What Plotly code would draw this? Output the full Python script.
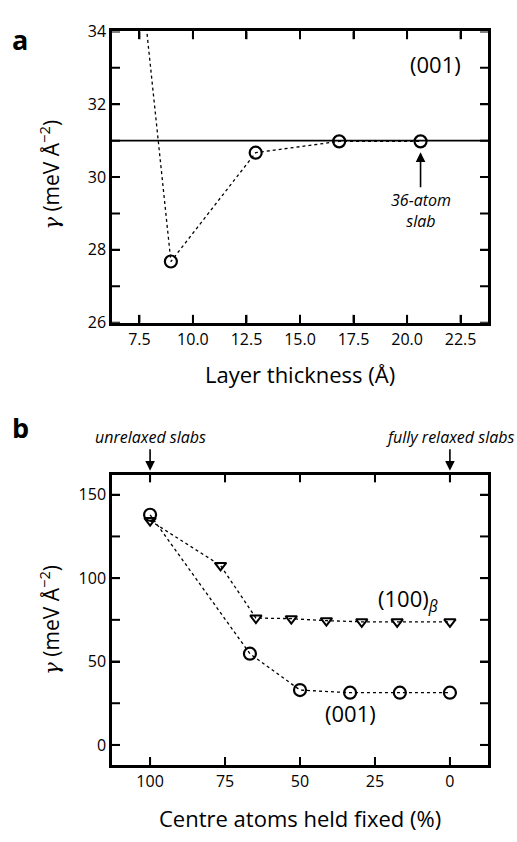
import plotly.graph_objects as go

# Panel a data
thickness = [5.0, 8.97, 12.93, 16.83, 20.63]
gamma_a = [50.0, 27.68, 30.67, 30.98, 30.98]
converged = 31.0
xticks_a = [7.5, 10, 12.5, 15, 17.5, 20, 22.5]
yticks_a = [26, 27, 28, 29, 30, 31, 32, 33, 34]
ylabels_a = [26, 28, 30, 32, 34]

# Panel b data
fixed_001 = [100, 66.7, 50, 33.3, 16.7, 0]
gamma_001 = [138.0, 54.7, 32.9, 31.3, 31.3, 31.3]
fixed_100 = [100, 76.5, 64.7, 52.9, 41.2, 29.4, 17.6, 0]
gamma_100 = [134.5, 107.6, 76.1, 75.7, 74.5, 73.8, 73.8, 73.8]
xticks_b = [100, 75, 50, 25, 0]
yticks_b = [0, 25, 50, 75, 100, 125, 150]
ylabels_b = [0, 50, 100, 150]

FONT = "Open Sans"
W, H = 517, 842
XL, XR = 112, 488
A_T, A_B = 21, 320
B_T, B_B = 476, 774
TL = 8
def px(x): return x / W
def py(y): return 1 - y / H
def dx(x): return (x - XL) / (XR - XL)
def dya(y): return (A_B - y) / (A_B - A_T)
def dyb(y): return (B_B - y) / (B_B - B_T)

fig = go.Figure()
fig.add_trace(go.Scatter(x=thickness, y=gamma_a, mode="lines+markers",
    line=dict(color="black", width=1.3, dash="dot"),
    marker=dict(symbol="circle-open", size=12, color="black", line=dict(width=2.2)),
    xaxis="x", yaxis="y", showlegend=False))
fig.add_trace(go.Scatter(x=fixed_001, y=gamma_001, mode="lines+markers",
    line=dict(color="black", width=1.3, dash="dot"),
    marker=dict(symbol="circle-open", size=12, color="black", line=dict(width=2.2)),
    xaxis="x2", yaxis="y2", showlegend=False))
fig.add_trace(go.Scatter(x=fixed_100, y=gamma_100, mode="lines+markers",
    line=dict(color="black", width=1.3, dash="dot"),
    marker=dict(symbol="triangle-down-open", size=10, color="black", line=dict(width=2)),
    xaxis="x2", yaxis="y2", showlegend=False))

axis_common = dict(showline=True, linecolor="black", linewidth=2.5, mirror="allticks",
                   ticks="inside", ticklen=TL, tickwidth=2, tickcolor="black",
                   showgrid=False, zeroline=False, layer="above traces",
                   tickfont=dict(family=FONT, size=16, color="black"))

xdom = [px(XL), px(XR)]
fig.update_layout(
    width=W, height=H, margin=dict(l=0, r=0, t=0, b=0), autosize=False,
    plot_bgcolor="white", paper_bgcolor="white",
    xaxis=dict(domain=xdom, range=[6.22, 23.78], anchor="y",
               tickvals=xticks_a, tickformat=".1f", **axis_common),
    yaxis=dict(domain=[py(A_B), py(A_T)], range=[26, 34], anchor="x",
               tickvals=ylabels_a, **axis_common),
    xaxis2=dict(domain=xdom, range=[112.7, -12.7], anchor="y2",
                tickvals=xticks_b, **axis_common),
    yaxis2=dict(domain=[py(B_B), py(B_T)], range=[-11.9, 162.1], anchor="x2",
                tickvals=ylabels_b, **axis_common),
)

fig.add_shape(type="line", xref="x domain", yref="y", x0=0, x1=1, y0=converged, y1=converged,
              line=dict(color="black", width=1.6))

# inward tick marks on all four sides (drawn at the axis tick values)
tick_line = dict(color="black", width=2)
for xa, ya, xt, yt, ph in [("x", "y", xticks_a, yticks_a, A_B - A_T),
                           ("x2", "y2", xticks_b, yticks_b, B_B - B_T)]:
    fw = XR - XL
    for v in xt:
        fig.add_shape(type="line", xref=xa, yref=ya + " domain", x0=v, x1=v, y0=0, y1=TL / ph, line=tick_line)
        fig.add_shape(type="line", xref=xa, yref=ya + " domain", x0=v, x1=v, y0=1, y1=1 - TL / ph, line=tick_line)
    for v in yt:
        fig.add_shape(type="line", xref=xa + " domain", yref=ya, x0=0, x1=TL / fw, y0=v, y1=v, line=tick_line)
        fig.add_shape(type="line", xref=xa + " domain", yref=ya, x0=1, x1=1 - TL / fw, y0=v, y1=v, line=tick_line)

ytitle = '<span style="font-family:DejaVu Serif"><i>γ</i></span> (meV Å<sup>−2</sup>)'
ann = []
def A(text, x, y, panel, size, xanchor="center", **kw):
    ref = ("x domain", "y domain") if panel == "a" else ("x2 domain", "y2 domain")
    yy = dya(y) if panel == "a" else dyb(y)
    ann.append(dict(text=text, x=dx(x), y=yy, xref=ref[0], yref=ref[1],
                    xanchor=xanchor, yanchor="middle",
                    showarrow=False, font=dict(family=FONT, size=size, color="black"), **kw))

A("<b>a</b>", 20, 29, "a", 27)
A("<b>b</b>", 20, 428, "b", 27)
A(ytitle, 50, 168, "a", 21, textangle=-90)
A(ytitle, 50, 625, "b", 21, textangle=-90)
A("Layer thickness (Å)", 300, 373, "a", 22)
A("Centre atoms held fixed (%)", 300, 829, "b", 22)
A("(001)", 435, 54, "a", 22)
A("(100)<sub><i>β</i></sub>", 408, 605, "b", 22)
A("(001)", 350, 721, "b", 22)

arrow_style = dict(showarrow=True, arrowhead=2, arrowsize=1.2, arrowwidth=1.6,
                   arrowcolor="black", standoff=0, font=dict(family=FONT, size=16, color="black"))
# 36-atom slab label with arrow pointing up to the last point
ann.append(dict(text="<i>36-atom</i><br><i>slab</i>", x=thickness[-1], y=30.68, xref="x", yref="y",
                ax=0, ay=58, axref="pixel", ayref="pixel", **arrow_style))
# unrelaxed / fully relaxed labels with arrows down to the top axis
for xv, label in [(100, "<i>unrelaxed slabs</i>"), (0, "<i>fully relaxed slabs</i>")]:
    ann.append(dict(text=label, x=xv, y=dyb(472), xref="x2", yref="y2 domain",
                    ax=0, ay=-34, axref="pixel", ayref="pixel", **arrow_style))
fig.update_layout(annotations=ann)

fig.write_html("out.html")
